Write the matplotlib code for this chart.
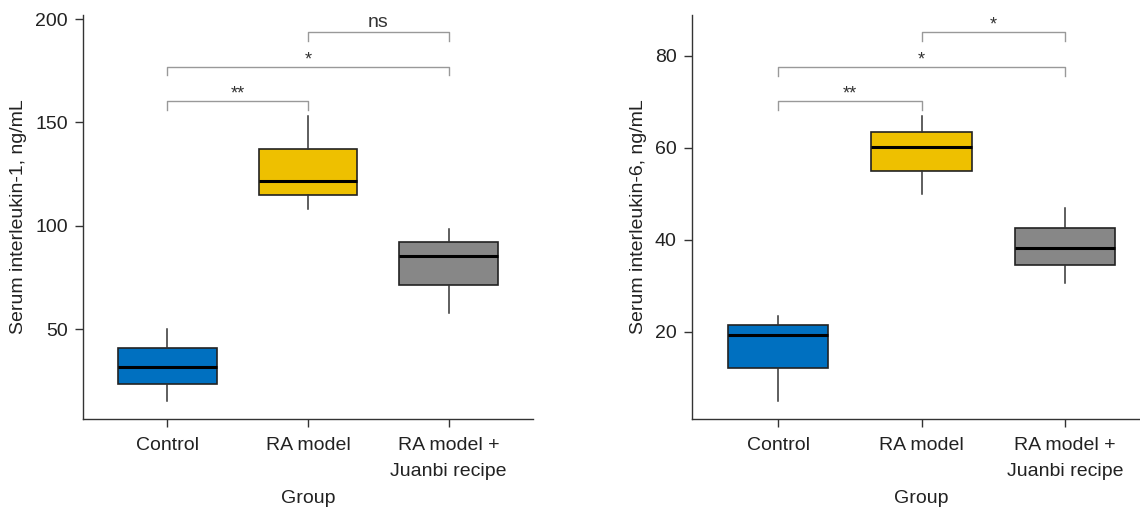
import matplotlib
matplotlib.use("Agg")
from matplotlib import pyplot as plt

plt.rcParams['font.family'] = ['Liberation Sans', 'DejaVu Sans']

groups = ["Control", "RA model", "RA model +\nJuanbi recipe"]
box_colors = ["#0070C0", "#EEC000", "#878787"]

# IL-1 (ng/mL): lower whisker, Q1, median, Q3, upper whisker
il1_low = [15.2, 108.1, 57.6]
il1_q1 = [23.2, 114.7, 71.5]
il1_med = [31.5, 121.5, 85.2]
il1_q3 = [41.0, 137.3, 92.1]
il1_high = [50.0, 153.2, 98.5]

# IL-6 (ng/mL)
il6_low = [4.9, 49.9, 30.6]
il6_q1 = [12.1, 55.0, 34.4]
il6_med = [19.3, 60.1, 38.2]
il6_q3 = [21.5, 63.5, 42.5]
il6_high = [23.5, 67.0, 46.8]

# significance brackets: (left group, right group, height, label)
il1_sig = [(1, 2, 160.2, "**"), (1, 3, 176.8, "*"), (2, 3, 193.6, "ns")]
il6_sig = [(1, 2, 70.1, "**"), (1, 3, 77.6, "*"), (2, 3, 85.2, "*")]

dark = "#333333"
fs = 14


def draw_panel(ax, low, q1, med, q3, high, ylim, yticks, ylabel, sig, leg):
    stats = []
    for i in range(len(groups)):
        stats.append(dict(whislo=low[i], q1=q1[i], med=med[i], q3=q3[i],
                          whishi=high[i], fliers=[]))
    bp = ax.bxp(stats, positions=[1, 2, 3], widths=0.7, patch_artist=True,
                showcaps=False,
                boxprops=dict(edgecolor="#222222", linewidth=1.2),
                medianprops=dict(color="black", linewidth=2.2),
                whiskerprops=dict(color=dark, linewidth=1.1))
    for patch, c in zip(bp['boxes'], box_colors):
        patch.set_facecolor(c)

    for x1, x2, y, label in sig:
        ax.plot([x1, x1, x2, x2], [y - leg, y, y, y - leg], color="#999999",
                linewidth=1.0, clip_on=False)
        dy = 3.5 if label == "ns" else 1.8
        ax.annotate(label, xy=((x1 + x2) / 2, y), xytext=(0, dy),
                    textcoords="offset points", ha="center", va="baseline",
                    fontsize=fs if label == "ns" else 13, color=dark,
                    annotation_clip=False)

    ax.set_xlim(0.4, 3.6)
    ax.set_ylim(*ylim)
    ax.set_yticks(yticks)
    ax.set_xticks([1, 2, 3])
    ax.set_xticklabels(groups, linespacing=1.7)
    ax.spines['top'].set_visible(False)
    ax.spines['right'].set_visible(False)
    for s in ['left', 'bottom']:
        ax.spines[s].set_color(dark)
        ax.spines[s].set_linewidth(1.0)
    ax.tick_params(colors=dark, labelcolor="#222222", labelsize=fs,
                   length=6, width=1.0, pad=5)
    ax.tick_params(axis="x", pad=7)
    ax.set_ylabel(ylabel, fontsize=fs, color="#222222", labelpad=6)
    ax.set_xlabel("Group", fontsize=fs, color="#222222", labelpad=7)


fig = plt.figure(figsize=(11.4, 5.07), dpi=100)
ax1 = fig.add_axes([83 / 1140, 88 / 507, 450 / 1140, 404 / 507])
ax2 = fig.add_axes([692 / 1140, 88 / 507, 459 / 1140, 404 / 507])

draw_panel(ax1, il1_low, il1_q1, il1_med, il1_q3, il1_high, (6.5, 202),
           [50, 100, 150, 200], "Serum interleukin-1, ng/mL", il1_sig, 4.0)
draw_panel(ax2, il6_low, il6_q1, il6_med, il6_q3, il6_high, (1.0, 88.9),
           [20, 40, 60, 80], "Serum interleukin-6, ng/mL", il6_sig, 1.9)

fig.savefig("out.png", dpi=100)
